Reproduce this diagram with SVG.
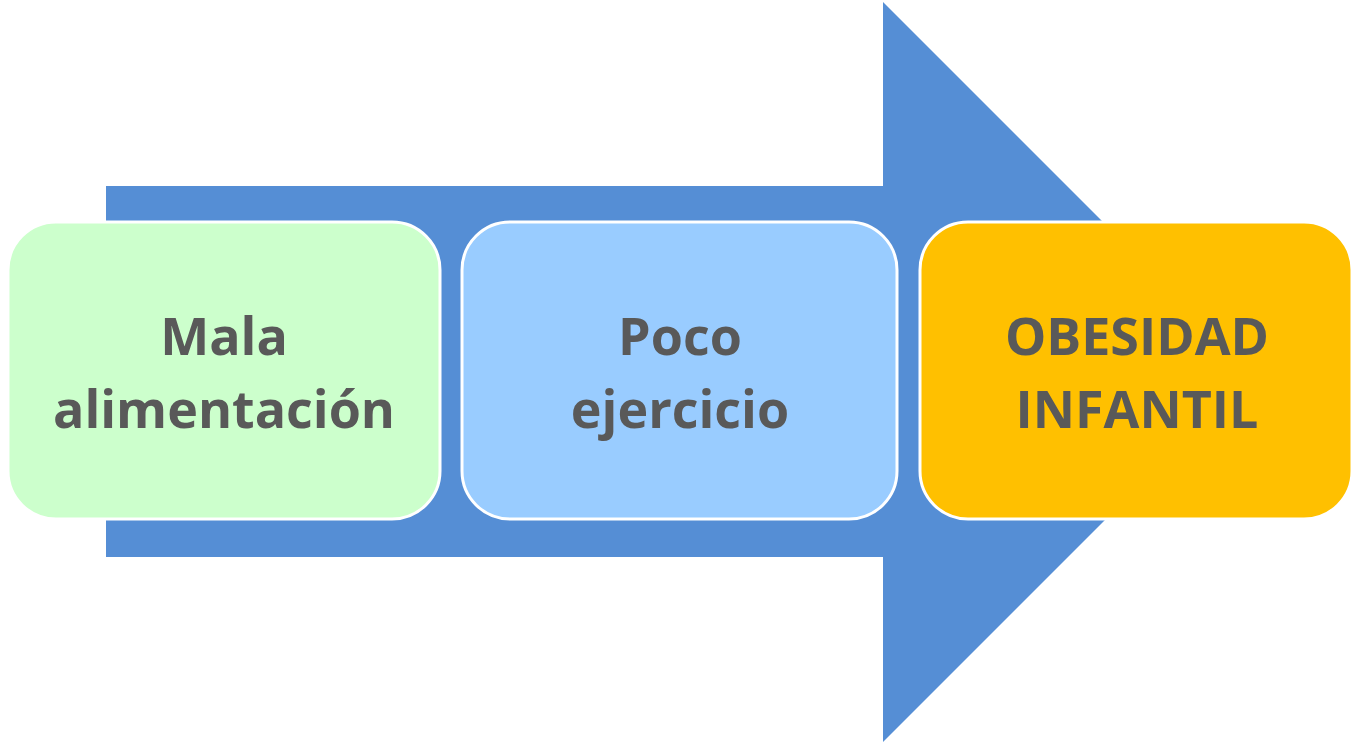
<svg xmlns="http://www.w3.org/2000/svg" width="1357" height="744" viewBox="0 0 1357 744">
<style>
.box{stroke:#fff;stroke-width:3}
.t{font-family:"Open Sans","Liberation Sans",sans-serif;font-weight:bold;font-size:52px;fill:#595959;text-anchor:middle}
</style>
<rect width="1357" height="744" fill="#fff"/>
<g id="connectors">
<polygon points="106,186 883,186 883,2 1253,372 883,742 883,557 106,557" fill="#558ED5"/>
</g>
<g id="node1"><rect class="box" x="8" y="222" width="432" height="297" rx="48" fill="#CCFFCC"/>
<text class="t" x="224" y="355">Mala</text><text class="t" x="224" y="428">alimentación</text></g>
<g id="node2"><rect class="box" x="462" y="222" width="435" height="297" rx="48" fill="#99CCFF"/>
<text class="t" x="680" y="355">Poco</text><text class="t" x="680" y="428">ejercicio</text></g>
<g id="node3"><rect class="box" x="920" y="222" width="432" height="297" rx="48" fill="#FFC000"/>
<text class="t" x="1137" y="355">OBESIDAD</text><text class="t" x="1137" y="428">INFANTIL</text></g>
</svg>
